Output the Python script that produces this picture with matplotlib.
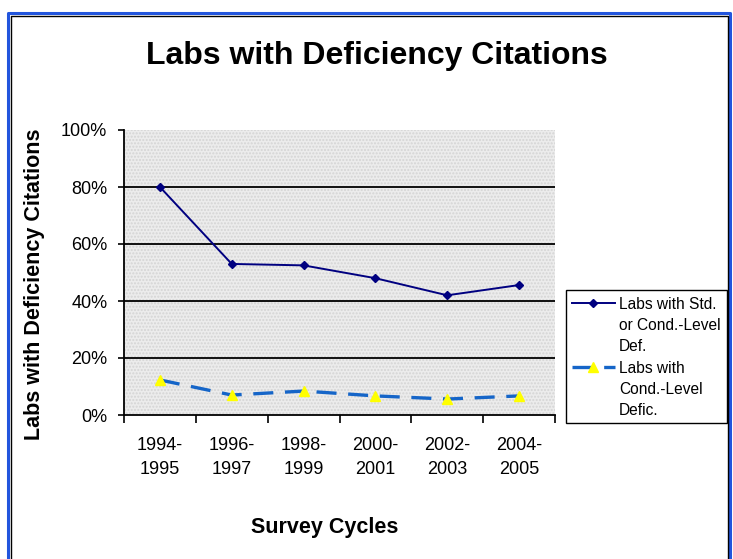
import matplotlib
matplotlib.use("Agg")
import matplotlib.pyplot as plt
from matplotlib.lines import Line2D
from matplotlib.patches import Rectangle
import numpy as np

plt.rcParams['font.family'] = ['Liberation Sans', 'DejaVu Sans']

categories = ["1994-\n1995", "1996-\n1997", "1998-\n1999", "2000-\n2001", "2002-\n2003", "2004-\n2005"]
std_or_cond = [80.0, 53.0, 52.5, 48.0, 42.0, 45.6]
cond_level = [12.3, 7.0, 8.4, 6.7, 5.6, 6.7]
yticks = [0, 20, 40, 60, 80, 100]
ytick_labels = ["0%", "20%", "40%", "60%", "80%", "100%"]
series_labels = ["Labs with Std.\nor Cond.-Level\nDef.", "Labs with\nCond.-Level\nDefic."]

W, H = 733, 559
fig = plt.figure(figsize=(W / 100, H / 100), dpi=100)
fig.patch.set_facecolor('white')

ax = fig.add_axes([124 / W, 1 - 415 / H, (555 - 124) / W, (415 - 130) / H])
ax.set_facecolor('#ececec')
ax.patch.set_hatch('.....')
ax.patch.set_edgecolor('#d4d4d4')
ax.patch.set_linewidth(0)

navy_style = dict(color='#000080', lw=1.4, marker='D', ms=4.5,
                  markerfacecolor='#000080', markeredgecolor='#000080')
blue_style = dict(color='#1565c8', lw=2.4, dashes=(6, 3.5), marker='^', ms=7,
                  markerfacecolor='#ffff00', markeredgecolor='#ffff00')

x = np.arange(len(categories))
ax.plot(x, std_or_cond, zorder=4, **navy_style)
ax.plot(x, cond_level, zorder=4, **blue_style)

ax.set_xlim(-0.5, len(categories) - 0.5)
ax.set_ylim(0, 100)
ax.set_yticks(yticks)
ax.set_yticklabels(ytick_labels)
for v in yticks[1:-1]:
    ax.axhline(v, color='black', lw=1.3, zorder=2)

ax.set_xticks(x)
ax.set_xticklabels(categories, linespacing=1.55)
ax.set_xticks(np.arange(len(categories) + 1) - 0.5, minor=True)
ax.tick_params(axis='x', which='major', length=0, pad=15.5, labelsize=13)
ax.tick_params(axis='x', which='minor', length=6, width=1.2, direction='out')
ax.tick_params(axis='y', length=4.5, width=1.2, direction='out', pad=7.5, labelsize=13)

for s in ['top', 'right']:
    ax.spines[s].set_visible(False)
for s in ['left', 'bottom']:
    ax.spines[s].set_linewidth(1.3)
    ax.spines[s].set_color('black')

fig.text(377 / W, 1 - 56 / H, "Labs with Deficiency Citations", ha='center', va='center',
         fontsize=23, fontweight='bold')
fig.text(35 / W, 1 - 284 / H, "Labs with Deficiency Citations", ha='center', va='center',
         rotation=90, fontsize=15.5, fontweight='bold')
fig.text(325 / W, 1 - 527 / H, "Survey Cycles", ha='center', va='center',
         fontsize=15.5, fontweight='bold')

# legend (manual layout: handle aligned with the first text line)
fig.add_artist(Rectangle((566 / W, 1 - 423 / H), (727 - 566) / W, (423 - 290) / H,
                         transform=fig.transFigure, facecolor='white', edgecolor='black', lw=1.0))
legend_rows = [(303, navy_style, series_labels[0]), (367, blue_style, series_labels[1])]
for ypx, style, label in legend_rows:
    yf = 1 - ypx / H
    st = dict(style)
    st.pop('marker')
    fig.add_artist(Line2D([572 / W, 615 / W], [yf, yf], transform=fig.transFigure, **st))
    fig.add_artist(Line2D([593 / W], [yf], transform=fig.transFigure, marker=style['marker'],
                          ms=style['ms'], color=style['markerfacecolor'], lw=0,
                          markeredgecolor=style['markeredgecolor']))
    fig.text(619 / W, 1 - (ypx - 6) / H, label, ha='left', va='top', fontsize=11.2,
             linespacing=1.5, transform=fig.transFigure)

# outer frame: blue outer line, black inner line
fig.add_artist(Line2D([8 / W, 8 / W, 730 / W, 730 / W], [0, 1 - 13 / H, 1 - 13 / H, 0],
                      transform=fig.transFigure, color='#2255dd', lw=2.2))
fig.add_artist(Line2D([10.5 / W, 10.5 / W, 727.5 / W, 727.5 / W], [0, 1 - 15.5 / H, 1 - 15.5 / H, 0],
                      transform=fig.transFigure, color='black', lw=1.0))

fig.savefig('out.png', dpi=100)
